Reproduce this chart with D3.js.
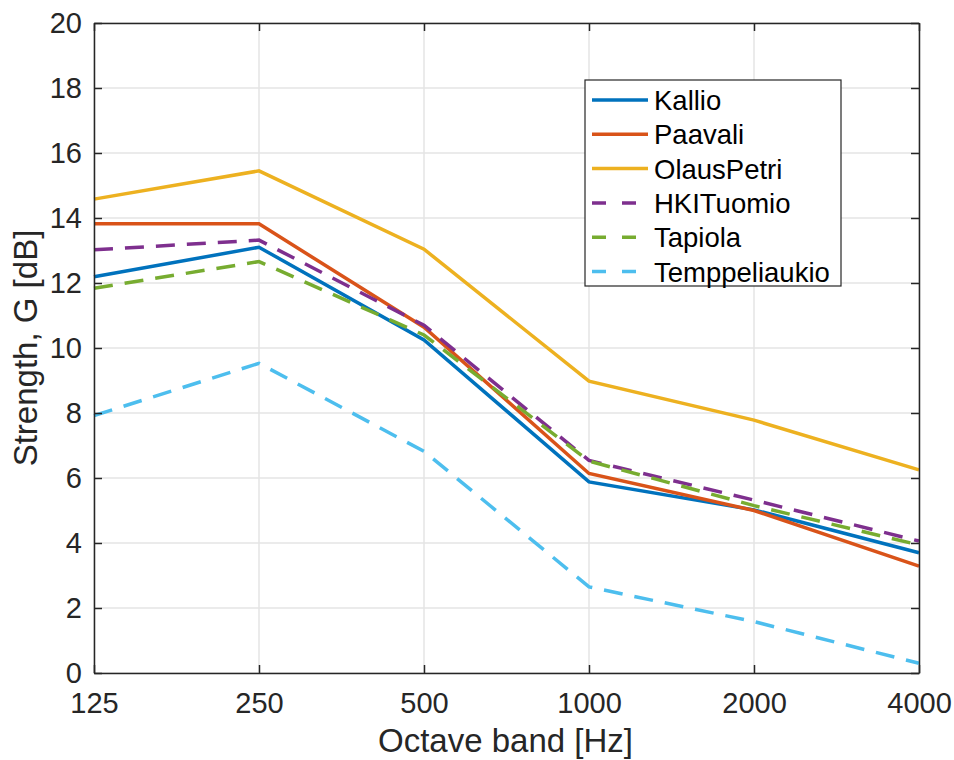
<!DOCTYPE html>
<html>
<head>
<meta charset="utf-8">
<script src="https://cdn.jsdelivr.net/npm/d3@7"></script>
<style>
  html, body { margin: 0; padding: 0; background: #fff; }
  svg { display: block; font-family: "Liberation Sans", Arial, Helvetica, sans-serif; }
</style>
</head>
<body>
<svg id="chart" width="954" height="760"></svg>
<script>
// Octave band centre frequencies (Hz)
const bands = [125, 250, 500, 1000, 2000, 4000];
const bandLabels = ["125", "250", "500", "1000", "2000", "4000"];
const yTicks = [0, 2, 4, 6, 8, 10, 12, 14, 16, 18, 20];

// Strength G (dB) per hall
const kallio        = [12.19, 13.10, 10.25, 5.88, 5.02, 3.70];
const paavali       = [13.82, 13.82, 10.64, 6.14, 5.00, 3.29];
const olausPetri    = [14.58, 15.45, 13.04, 8.98, 7.78, 6.25];
const hkiTuomio     = [13.02, 13.32, 10.70, 6.54, 5.32, 4.06];
const tapiola       = [11.84, 12.66, 10.40, 6.52, 5.15, 3.94];
const temppeliaukio = [7.92, 9.53, 6.82, 2.65, 1.58, 0.30];

const seriesNames = ["Kallio", "Paavali", "OlausPetri", "HKITuomio", "Tapiola", "Temppeliaukio"];
const seriesValues = [kallio, paavali, olausPetri, hkiTuomio, tapiola, temppeliaukio];
const seriesColors = ["#0072BD", "#D95319", "#EDB120", "#7E2F8E", "#77AC30", "#4DBEEE"];
const seriesDashed = [false, false, false, true, true, true];

const svg = d3.select("#chart");
const plotLeft = 94, plotRight = 919, plotTop = 23, plotBottom = 673;

const x = d3.scalePoint().domain(bands).range([plotLeft, plotRight]);
const y = d3.scaleLinear().domain([0, 20]).range([plotBottom, plotTop]);

const axisColor = "#262626";
const gridColor = "#e5e5e5";

// grid
const grid = svg.append("g");
grid.selectAll("line.gx").data(bands).enter().append("line")
  .attr("x1", d => x(d)).attr("x2", d => x(d))
  .attr("y1", plotTop).attr("y2", plotBottom)
  .attr("stroke", gridColor).attr("stroke-width", 1.5);
grid.selectAll("line.gy").data(yTicks).enter().append("line")
  .attr("x1", plotLeft).attr("x2", plotRight)
  .attr("y1", d => y(d)).attr("y2", d => y(d))
  .attr("stroke", gridColor).attr("stroke-width", 1.5);

// series lines
const line = d3.line().x((d, i) => x(bands[i])).y(d => y(d));
seriesValues.forEach((vals, k) => {
  svg.append("path")
    .datum(vals)
    .attr("d", line)
    .attr("fill", "none")
    .attr("stroke", seriesColors[k])
    .attr("stroke-width", 3.5)
    .attr("stroke-linejoin", "miter")
    .attr("stroke-dasharray", seriesDashed[k] ? "19,12" : null);
});

// axes (box with inward ticks)
const yAxisL = d3.axisLeft(y).tickValues(yTicks).tickSizeInner(-8).tickSizeOuter(0).tickPadding(12);
const yAxisR = d3.axisRight(y).tickValues(yTicks).tickSizeInner(-8).tickSizeOuter(0).tickFormat("");
const xAxisB = d3.axisBottom(x).tickValues(bands).tickFormat((d, i) => bandLabels[i]).tickSizeInner(-8).tickSizeOuter(0).tickPadding(19);
const xAxisT = d3.axisTop(x).tickValues(bands).tickSizeInner(-8).tickSizeOuter(0).tickFormat("");

function styleAxis(g) {
  g.select(".domain").attr("stroke", axisColor).attr("stroke-width", 1.5);
  g.selectAll(".tick line").attr("stroke", axisColor).attr("stroke-width", 1.5);
  g.selectAll(".tick text").attr("fill", axisColor).style("font-size", "29px")
    .style("font-family", "'Liberation Sans', Arial, sans-serif");
}
svg.append("g").attr("transform", `translate(${plotLeft},0)`).call(yAxisL).call(styleAxis);
svg.append("g").attr("transform", `translate(${plotRight},0)`).call(yAxisR).call(styleAxis);
svg.append("g").attr("transform", `translate(0,${plotBottom})`).call(xAxisB).call(styleAxis);
svg.append("g").attr("transform", `translate(0,${plotTop})`).call(xAxisT).call(styleAxis);

// axis labels
svg.append("text")
  .attr("x", (plotLeft + plotRight) / 2 - 1).attr("y", 752)
  .attr("text-anchor", "middle")
  .attr("fill", axisColor)
  .style("font-size", "33px")
  .text("Octave band [Hz]");
svg.append("text")
  .attr("transform", `translate(37,${(plotTop + plotBottom) / 2}) rotate(-90)`)
  .attr("text-anchor", "middle")
  .attr("fill", axisColor)
  .style("font-size", "33px")
  .text("Strength, G [dB]");

// legend
const lg = svg.append("g");
lg.append("rect")
  .attr("x", 585).attr("y", 80).attr("width", 256).attr("height", 206)
  .attr("fill", "#fff").attr("stroke", axisColor).attr("stroke-width", 1.2);
seriesNames.forEach((name, k) => {
  const cy = 100 + k * 34.3;
  lg.append("line")
    .attr("x1", 592).attr("x2", 648).attr("y1", cy).attr("y2", cy)
    .attr("stroke", seriesColors[k]).attr("stroke-width", 3.5)
    .attr("stroke-dasharray", seriesDashed[k] ? "14,16" : null);
  lg.append("text")
    .attr("x", 654).attr("y", cy + 10)
    .attr("fill", "#000")
    .style("font-size", "27.5px")
    .text(name);
});
</script>
</body>
</html>
